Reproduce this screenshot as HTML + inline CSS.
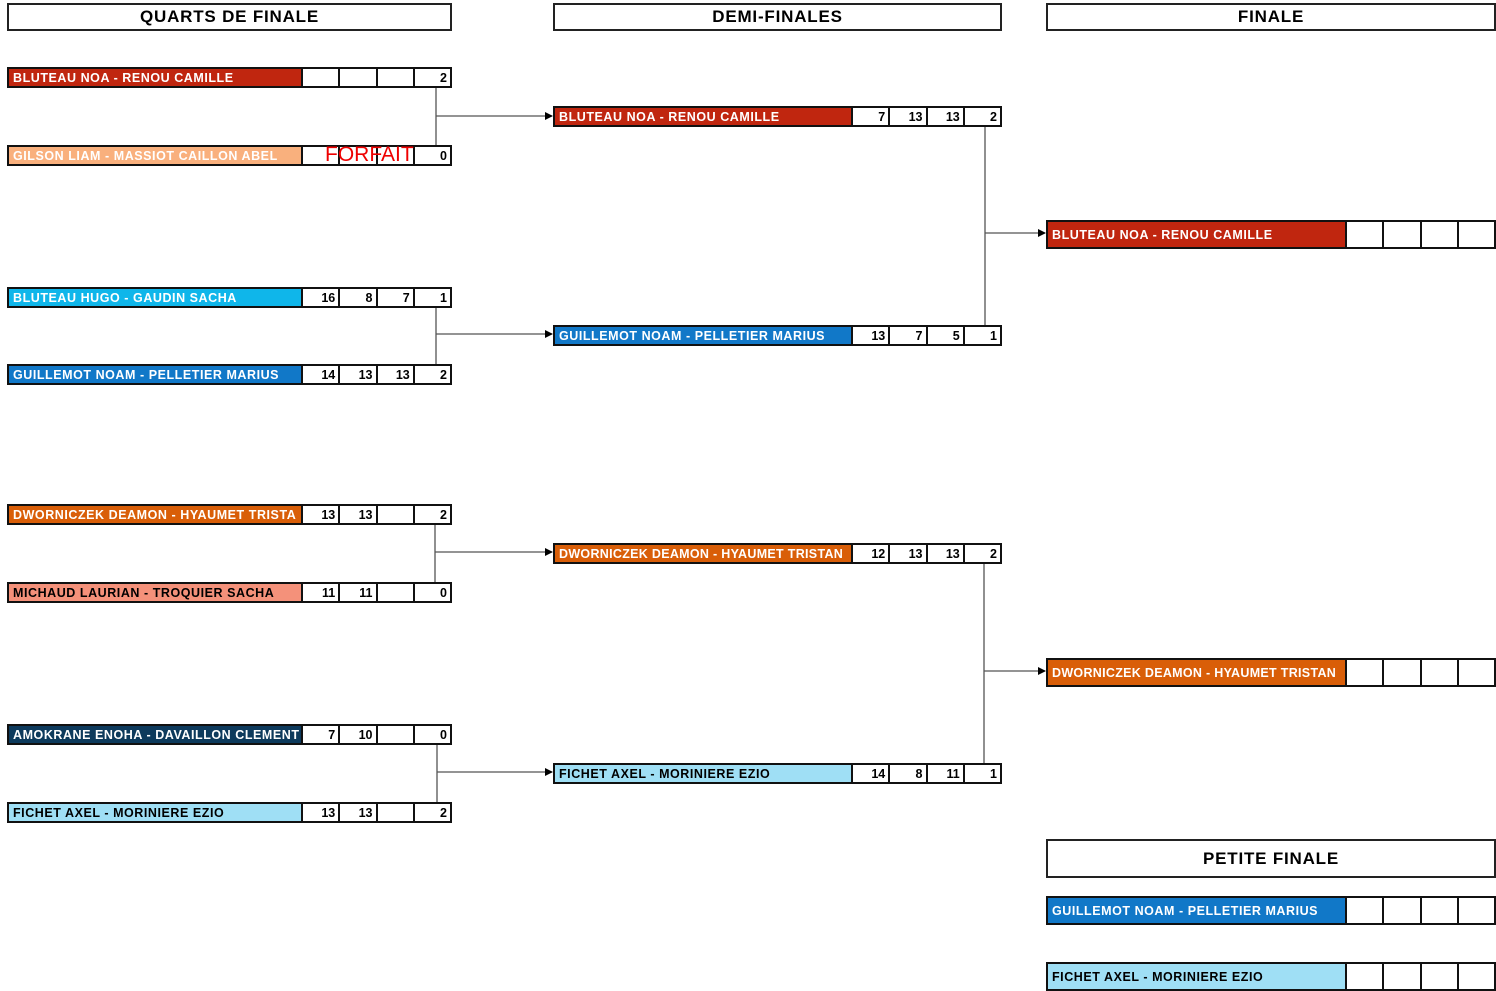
<!DOCTYPE html>
<html><head><meta charset="utf-8"><style>
*{box-sizing:border-box;margin:0;padding:0}
body{width:1496px;height:991px;background:#fff;position:relative;overflow:hidden;font-family:"Liberation Sans",sans-serif}
.h{position:absolute;border:2px solid #222;background:#fff;text-align:center;font-weight:bold;font-size:17px;color:#000;letter-spacing:0.8px}
.r{position:absolute;border:2px solid #111;display:grid;background:#fff}
.q{left:7px;width:445px;height:21px;grid-template-columns:292px 1fr 1fr 1fr 1fr}
.s{left:553px;width:449px;height:21px;grid-template-columns:296px 1fr 1fr 1fr 1fr}
.f{left:1046px;width:450px;height:29px;grid-template-columns:297px 1fr 1fr 1fr 1fr}
.n{color:#fff;font-weight:bold;font-size:12.5px;padding-left:4px;white-space:nowrap;overflow:hidden;display:flex;align-items:center;letter-spacing:0.55px}
.c{border-left:2px solid #111;font-weight:bold;font-size:12.5px;text-align:right;padding-right:3px;display:flex;align-items:center;justify-content:flex-end;color:#000}
.dk{color:#000}
svg{position:absolute;left:0;top:0}
</style></head><body>
<div class="h" style="left:7px;top:3px;width:445px;height:28px;line-height:24px">QUARTS DE FINALE</div>
<div class="h" style="left:553px;top:3px;width:449px;height:28px;line-height:24px">DEMI-FINALES</div>
<div class="h" style="left:1046px;top:3px;width:450px;height:28px;line-height:24px">FINALE</div>
<div class="h" style="left:1046px;top:839px;width:450px;height:39px;line-height:35px">PETITE FINALE</div>

<svg width="1496" height="991">
<defs><marker id="a" markerWidth="8" markerHeight="8" refX="7" refY="4" orient="auto" markerUnits="userSpaceOnUse"><path d="M0,0 L8,4 L0,8z" fill="#000"/></marker></defs>
<g stroke="#555" stroke-width="1.3" fill="none">
<line x1="436" y1="88" x2="436" y2="145"/><line x1="436" y1="116" x2="552" y2="116" marker-end="url(#a)"/>
<line x1="436" y1="308" x2="436" y2="364"/><line x1="436" y1="334" x2="552" y2="334" marker-end="url(#a)"/>
<line x1="435" y1="525" x2="435" y2="582"/><line x1="435" y1="552" x2="552" y2="552" marker-end="url(#a)"/>
<line x1="437" y1="745" x2="437" y2="802"/><line x1="437" y1="772" x2="552" y2="772" marker-end="url(#a)"/>
<line x1="985" y1="126" x2="985" y2="325"/><line x1="985" y1="233" x2="1045" y2="233" marker-end="url(#a)"/>
<line x1="984" y1="563" x2="984" y2="763"/><line x1="984" y1="671" x2="1045" y2="671" marker-end="url(#a)"/>
</g></svg>

<div class="r q" style="top:67px"><div class="n" style="background:#c0260f">BLUTEAU NOA - RENOU CAMILLE</div><div class="c"></div><div class="c"></div><div class="c"></div><div class="c">2</div></div>
<div class="r q" style="top:145px"><div class="n" style="background:#f9b07d">GILSON LIAM - MASSIOT CAILLON ABEL</div><div class="c"></div><div class="c"></div><div class="c"></div><div class="c">0</div></div>
<div style="position:absolute;left:325px;top:143px;color:#e00;font-size:21px;line-height:24px">FORFAIT</div>
<div class="r q" style="top:287px"><div class="n" style="background:#0fb6ea">BLUTEAU HUGO - GAUDIN SACHA</div><div class="c">16</div><div class="c">8</div><div class="c">7</div><div class="c">1</div></div>
<div class="r q" style="top:364px"><div class="n" style="background:#1178c8">GUILLEMOT NOAM - PELLETIER MARIUS</div><div class="c">14</div><div class="c">13</div><div class="c">13</div><div class="c">2</div></div>
<div class="r q" style="top:504px"><div class="n" style="background:#d95e08">DWORNICZEK DEAMON - HYAUMET TRISTA</div><div class="c">13</div><div class="c">13</div><div class="c"></div><div class="c">2</div></div>
<div class="r q" style="top:582px"><div class="n dk" style="background:#f4917a">MICHAUD LAURIAN - TROQUIER SACHA</div><div class="c">11</div><div class="c">11</div><div class="c"></div><div class="c">0</div></div>
<div class="r q" style="top:724px"><div class="n" style="background:#0d3a5c">AMOKRANE ENOHA - DAVAILLON CLEMENT</div><div class="c">7</div><div class="c">10</div><div class="c"></div><div class="c">0</div></div>
<div class="r q" style="top:802px"><div class="n dk" style="background:#9fdff5">FICHET AXEL - MORINIERE EZIO</div><div class="c">13</div><div class="c">13</div><div class="c"></div><div class="c">2</div></div>

<div class="r s" style="top:106px"><div class="n" style="background:#c0260f">BLUTEAU NOA - RENOU CAMILLE</div><div class="c">7</div><div class="c">13</div><div class="c">13</div><div class="c">2</div></div>
<div class="r s" style="top:325px"><div class="n" style="background:#1178c8">GUILLEMOT NOAM - PELLETIER MARIUS</div><div class="c">13</div><div class="c">7</div><div class="c">5</div><div class="c">1</div></div>
<div class="r s" style="top:543px"><div class="n" style="background:#d95e08;letter-spacing:0.3px">DWORNICZEK DEAMON - HYAUMET TRISTAN</div><div class="c">12</div><div class="c">13</div><div class="c">13</div><div class="c">2</div></div>
<div class="r s" style="top:763px"><div class="n dk" style="background:#9fdff5">FICHET AXEL - MORINIERE EZIO</div><div class="c">14</div><div class="c">8</div><div class="c">11</div><div class="c">1</div></div>

<div class="r f" style="top:220px"><div class="n" style="background:#c0260f">BLUTEAU NOA - RENOU CAMILLE</div><div class="c"></div><div class="c"></div><div class="c"></div><div class="c"></div></div>
<div class="r f" style="top:658px"><div class="n" style="background:#d95e08;letter-spacing:0.3px">DWORNICZEK DEAMON - HYAUMET TRISTAN</div><div class="c"></div><div class="c"></div><div class="c"></div><div class="c"></div></div>
<div class="r f" style="top:896px"><div class="n" style="background:#1178c8">GUILLEMOT NOAM - PELLETIER MARIUS</div><div class="c"></div><div class="c"></div><div class="c"></div><div class="c"></div></div>
<div class="r f" style="top:962px"><div class="n dk" style="background:#9fdff5">FICHET AXEL - MORINIERE EZIO</div><div class="c"></div><div class="c"></div><div class="c"></div><div class="c"></div></div>
</body></html>
